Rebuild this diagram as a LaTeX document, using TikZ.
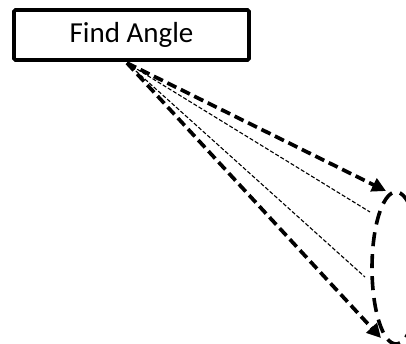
\documentclass[tikz,border=0pt]{standalone}
\usepackage{fontspec}
\setmainfont{Carlito}
\usetikzlibrary{arrows.meta,shapes.geometric}
\begin{document}
\begin{tikzpicture}[x=1pt,y=-1pt,
  boxstyle/.style={draw,line width=3.8pt,rounded corners=1.5pt,minimum width=235pt,minimum height=50pt,inner sep=0pt,font=\fontsize{29}{31}\selectfont},
  thickarrow/.style={line width=3.7pt,dash pattern=on 10pt off 5pt,-{Triangle[length=14pt,width=14pt]}},
  thinline/.style={line width=1.1pt,dash pattern=on 4pt off 2pt},
  ovalstyle/.style={draw,ellipse,line width=3.6pt,dash pattern=on 14pt off 8pt,minimum width=48pt,minimum height=152pt,inner sep=0pt}]
\useasboundingbox (0,0) rectangle (406,344);
\node[boxstyle] (box) at (131.5,35) {Find Angle};
\node[ovalstyle] (oval) at (396,268) {};
\coordinate (o) at (127,63);
\coordinate (t1) at (386,191);
\coordinate (t2) at (381,338);
\coordinate (e1) at (370,212);
\coordinate (e2) at (365,277);
\draw[thickarrow] (o) -- (t1);
\draw[thickarrow] (o) -- (t2);
\draw[thinline] (o) -- (e1);
\draw[thinline] (o) -- (e2);
\end{tikzpicture}
\end{document}
